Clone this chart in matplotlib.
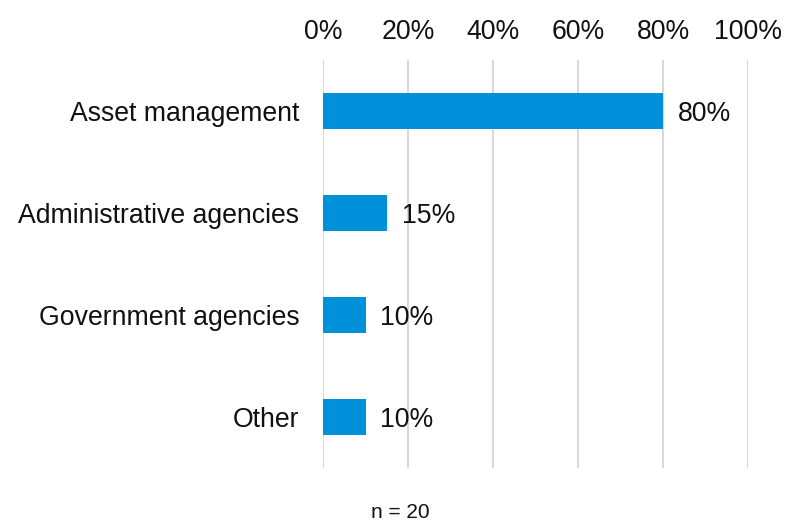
import matplotlib.pyplot as plt
import numpy as np

plt.rcParams['font.family'] = ['Liberation Sans', 'DejaVu Sans']

categories = ['Asset management', 'Administrative agencies', 'Government agencies', 'Other']
shares = [80, 15, 10, 10]
ticks = [0, 20, 40, 60, 80, 100]
tick_labels = ['0%', '20%', '40%', '60%', '80%', '100%']
note = 'n = 20'

fig = plt.figure(figsize=(7.85, 5.21), dpi=100)
ax = fig.add_axes([0.4115, 0.1017, 0.5415, 0.7833])

y = np.arange(len(categories))
ax.barh(y, shares, height=0.35, color='#0091DA', zorder=3)

# value labels just past the end of each bar
for yi, v in zip(y, shares):
    ax.text(v + 3.5, yi, f'{v}%', va='center_baseline', ha='left', fontsize=19.2, color='#111111')

ax.set_xlim(0, 100)
ax.set_ylim(len(categories) - 0.5, -0.5)
ax.set_xticks(ticks)
ax.set_xticklabels(tick_labels)
ax.set_yticks(y)
ax.set_yticklabels(categories, va='center_baseline')
ax.xaxis.tick_top()
ax.tick_params(axis='x', length=0, pad=11, labelsize=19.2, colors='#111111')
ax.tick_params(axis='y', length=0, pad=17, labelsize=19.2, colors='#111111')
ax.grid(axis='x', color='#D9D9D9', linewidth=1.5, zorder=0)
for s in ax.spines.values():
    s.set_visible(False)

fig.text(400 / 785, 1 - 512 / 521, note, ha='center', va='center', fontsize=15, color='#111111')

fig.savefig('out.png', dpi=100)
